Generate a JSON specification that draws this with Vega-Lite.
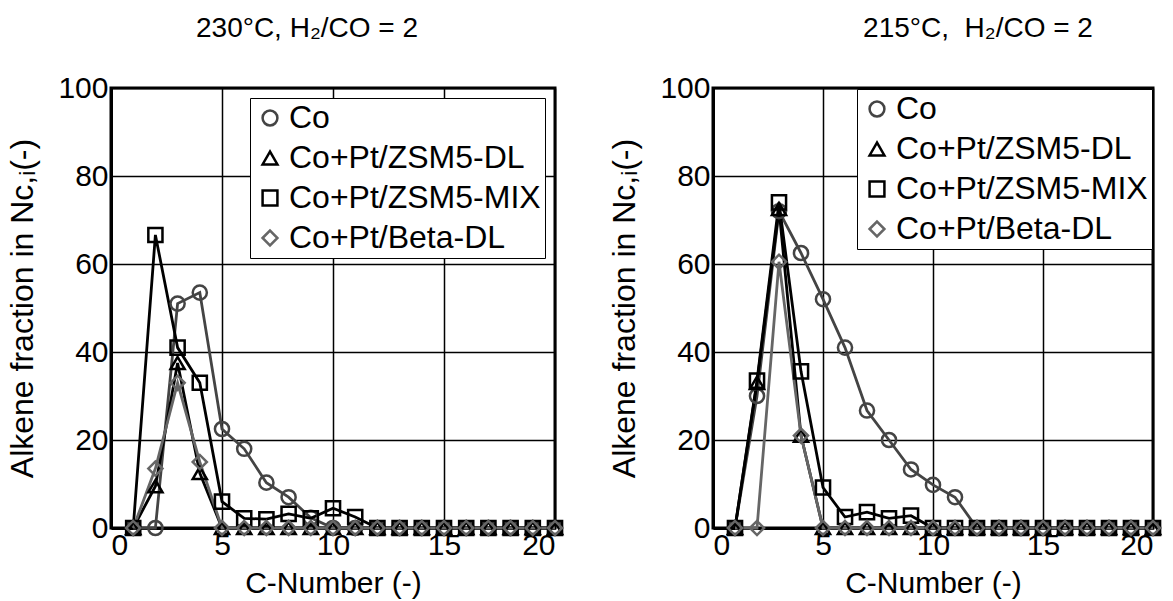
{
  "$schema": "https://vega.github.io/schema/vega-lite/v6.json",
  "padding": {"left": 5, "top": 13, "right": 5, "bottom": 0},
  "config": {
    "font": "Liberation Sans",
    "background": "white",
    "view": {"stroke": "black", "strokeWidth": 3},
    "axis": {
      "domainColor": "black", "domainWidth": 3,
      "grid": true, "gridColor": "black", "gridOpacity": 1, "gridWidth": 1.5,
      "ticks": false,
      "labelFont": "Liberation Sans", "labelFontSize": 30, "labelColor": "black",
      "titleFont": "Liberation Sans", "titleFontSize": 30, "titleColor": "black", "titleFontWeight": "normal"
    },
    "legend": {
      "labelFont": "Liberation Sans", "labelFontSize": 32, "labelColor": "black", "labelLimit": 0,
      "strokeColor": "black", "fillColor": "white", "padding": 4,
      "rowPadding": 8, "symbolStrokeWidth": 2.5, "symbolSize": 220, "labelOffset": 3,
      "orient": "top-right"
    },
    "title": {"font": "Liberation Sans", "fontSize": 28, "fontWeight": "normal", "color": "black"}
  },
  "datasets": {
    "d": [
      {"p": "A", "s": "Co", "c": 1, "v": 0}, {"p": "A", "s": "Co", "c": 2, "v": 0}, {"p": "A", "s": "Co", "c": 3, "v": 51}, {"p": "A", "s": "Co", "c": 4, "v": 53.5}, {"p": "A", "s": "Co", "c": 5, "v": 22.5}, {"p": "A", "s": "Co", "c": 6, "v": 18}, {"p": "A", "s": "Co", "c": 7, "v": 10.3}, {"p": "A", "s": "Co", "c": 8, "v": 7}, {"p": "A", "s": "Co", "c": 9, "v": 2.3}, {"p": "A", "s": "Co", "c": 10, "v": 0}, {"p": "A", "s": "Co", "c": 11, "v": 0}, {"p": "A", "s": "Co", "c": 12, "v": 0}, {"p": "A", "s": "Co", "c": 13, "v": 0}, {"p": "A", "s": "Co", "c": 14, "v": 0}, {"p": "A", "s": "Co", "c": 15, "v": 0}, {"p": "A", "s": "Co", "c": 16, "v": 0}, {"p": "A", "s": "Co", "c": 17, "v": 0}, {"p": "A", "s": "Co", "c": 18, "v": 0}, {"p": "A", "s": "Co", "c": 19, "v": 0}, {"p": "A", "s": "Co", "c": 20, "v": 0},
      {"p": "A", "s": "Co+Pt/ZSM5-DL", "c": 1, "v": 0}, {"p": "A", "s": "Co+Pt/ZSM5-DL", "c": 2, "v": 9.5}, {"p": "A", "s": "Co+Pt/ZSM5-DL", "c": 3, "v": 37.5}, {"p": "A", "s": "Co+Pt/ZSM5-DL", "c": 4, "v": 12.5}, {"p": "A", "s": "Co+Pt/ZSM5-DL", "c": 5, "v": 0}, {"p": "A", "s": "Co+Pt/ZSM5-DL", "c": 6, "v": 0}, {"p": "A", "s": "Co+Pt/ZSM5-DL", "c": 7, "v": 0}, {"p": "A", "s": "Co+Pt/ZSM5-DL", "c": 8, "v": 0}, {"p": "A", "s": "Co+Pt/ZSM5-DL", "c": 9, "v": 0}, {"p": "A", "s": "Co+Pt/ZSM5-DL", "c": 10, "v": 0}, {"p": "A", "s": "Co+Pt/ZSM5-DL", "c": 11, "v": 0}, {"p": "A", "s": "Co+Pt/ZSM5-DL", "c": 12, "v": 0}, {"p": "A", "s": "Co+Pt/ZSM5-DL", "c": 13, "v": 0}, {"p": "A", "s": "Co+Pt/ZSM5-DL", "c": 14, "v": 0}, {"p": "A", "s": "Co+Pt/ZSM5-DL", "c": 15, "v": 0}, {"p": "A", "s": "Co+Pt/ZSM5-DL", "c": 16, "v": 0}, {"p": "A", "s": "Co+Pt/ZSM5-DL", "c": 17, "v": 0}, {"p": "A", "s": "Co+Pt/ZSM5-DL", "c": 18, "v": 0}, {"p": "A", "s": "Co+Pt/ZSM5-DL", "c": 19, "v": 0}, {"p": "A", "s": "Co+Pt/ZSM5-DL", "c": 20, "v": 0},
      {"p": "A", "s": "Co+Pt/ZSM5-MIX", "c": 1, "v": 0}, {"p": "A", "s": "Co+Pt/ZSM5-MIX", "c": 2, "v": 66.6}, {"p": "A", "s": "Co+Pt/ZSM5-MIX", "c": 3, "v": 41}, {"p": "A", "s": "Co+Pt/ZSM5-MIX", "c": 4, "v": 33}, {"p": "A", "s": "Co+Pt/ZSM5-MIX", "c": 5, "v": 6}, {"p": "A", "s": "Co+Pt/ZSM5-MIX", "c": 6, "v": 2.2}, {"p": "A", "s": "Co+Pt/ZSM5-MIX", "c": 7, "v": 2}, {"p": "A", "s": "Co+Pt/ZSM5-MIX", "c": 8, "v": 3.2}, {"p": "A", "s": "Co+Pt/ZSM5-MIX", "c": 9, "v": 2.2}, {"p": "A", "s": "Co+Pt/ZSM5-MIX", "c": 10, "v": 4.5}, {"p": "A", "s": "Co+Pt/ZSM5-MIX", "c": 11, "v": 2.5}, {"p": "A", "s": "Co+Pt/ZSM5-MIX", "c": 12, "v": 0}, {"p": "A", "s": "Co+Pt/ZSM5-MIX", "c": 13, "v": 0}, {"p": "A", "s": "Co+Pt/ZSM5-MIX", "c": 14, "v": 0}, {"p": "A", "s": "Co+Pt/ZSM5-MIX", "c": 15, "v": 0}, {"p": "A", "s": "Co+Pt/ZSM5-MIX", "c": 16, "v": 0}, {"p": "A", "s": "Co+Pt/ZSM5-MIX", "c": 17, "v": 0}, {"p": "A", "s": "Co+Pt/ZSM5-MIX", "c": 18, "v": 0}, {"p": "A", "s": "Co+Pt/ZSM5-MIX", "c": 19, "v": 0}, {"p": "A", "s": "Co+Pt/ZSM5-MIX", "c": 20, "v": 0},
      {"p": "A", "s": "Co+Pt/Beta-DL", "c": 1, "v": 0}, {"p": "A", "s": "Co+Pt/Beta-DL", "c": 2, "v": 13.5}, {"p": "A", "s": "Co+Pt/Beta-DL", "c": 3, "v": 33}, {"p": "A", "s": "Co+Pt/Beta-DL", "c": 4, "v": 15}, {"p": "A", "s": "Co+Pt/Beta-DL", "c": 5, "v": 0}, {"p": "A", "s": "Co+Pt/Beta-DL", "c": 6, "v": 0}, {"p": "A", "s": "Co+Pt/Beta-DL", "c": 7, "v": 0}, {"p": "A", "s": "Co+Pt/Beta-DL", "c": 8, "v": 0}, {"p": "A", "s": "Co+Pt/Beta-DL", "c": 9, "v": 0}, {"p": "A", "s": "Co+Pt/Beta-DL", "c": 10, "v": 0}, {"p": "A", "s": "Co+Pt/Beta-DL", "c": 11, "v": 0}, {"p": "A", "s": "Co+Pt/Beta-DL", "c": 12, "v": 0}, {"p": "A", "s": "Co+Pt/Beta-DL", "c": 13, "v": 0}, {"p": "A", "s": "Co+Pt/Beta-DL", "c": 14, "v": 0}, {"p": "A", "s": "Co+Pt/Beta-DL", "c": 15, "v": 0}, {"p": "A", "s": "Co+Pt/Beta-DL", "c": 16, "v": 0}, {"p": "A", "s": "Co+Pt/Beta-DL", "c": 17, "v": 0}, {"p": "A", "s": "Co+Pt/Beta-DL", "c": 18, "v": 0}, {"p": "A", "s": "Co+Pt/Beta-DL", "c": 19, "v": 0}, {"p": "A", "s": "Co+Pt/Beta-DL", "c": 20, "v": 0},
      {"p": "B", "s": "Co", "c": 1, "v": 0}, {"p": "B", "s": "Co", "c": 2, "v": 30}, {"p": "B", "s": "Co", "c": 3, "v": 72}, {"p": "B", "s": "Co", "c": 4, "v": 62.5}, {"p": "B", "s": "Co", "c": 5, "v": 52}, {"p": "B", "s": "Co", "c": 6, "v": 41}, {"p": "B", "s": "Co", "c": 7, "v": 26.7}, {"p": "B", "s": "Co", "c": 8, "v": 20}, {"p": "B", "s": "Co", "c": 9, "v": 13.3}, {"p": "B", "s": "Co", "c": 10, "v": 9.8}, {"p": "B", "s": "Co", "c": 11, "v": 7}, {"p": "B", "s": "Co", "c": 12, "v": 0}, {"p": "B", "s": "Co", "c": 13, "v": 0}, {"p": "B", "s": "Co", "c": 14, "v": 0}, {"p": "B", "s": "Co", "c": 15, "v": 0}, {"p": "B", "s": "Co", "c": 16, "v": 0}, {"p": "B", "s": "Co", "c": 17, "v": 0}, {"p": "B", "s": "Co", "c": 18, "v": 0}, {"p": "B", "s": "Co", "c": 19, "v": 0}, {"p": "B", "s": "Co", "c": 20, "v": 0},
      {"p": "B", "s": "Co+Pt/ZSM5-DL", "c": 1, "v": 0}, {"p": "B", "s": "Co+Pt/ZSM5-DL", "c": 2, "v": 33}, {"p": "B", "s": "Co+Pt/ZSM5-DL", "c": 3, "v": 72.5}, {"p": "B", "s": "Co+Pt/ZSM5-DL", "c": 4, "v": 21}, {"p": "B", "s": "Co+Pt/ZSM5-DL", "c": 5, "v": 0}, {"p": "B", "s": "Co+Pt/ZSM5-DL", "c": 6, "v": 0}, {"p": "B", "s": "Co+Pt/ZSM5-DL", "c": 7, "v": 0}, {"p": "B", "s": "Co+Pt/ZSM5-DL", "c": 8, "v": 0}, {"p": "B", "s": "Co+Pt/ZSM5-DL", "c": 9, "v": 0}, {"p": "B", "s": "Co+Pt/ZSM5-DL", "c": 10, "v": 0}, {"p": "B", "s": "Co+Pt/ZSM5-DL", "c": 11, "v": 0}, {"p": "B", "s": "Co+Pt/ZSM5-DL", "c": 12, "v": 0}, {"p": "B", "s": "Co+Pt/ZSM5-DL", "c": 13, "v": 0}, {"p": "B", "s": "Co+Pt/ZSM5-DL", "c": 14, "v": 0}, {"p": "B", "s": "Co+Pt/ZSM5-DL", "c": 15, "v": 0}, {"p": "B", "s": "Co+Pt/ZSM5-DL", "c": 16, "v": 0}, {"p": "B", "s": "Co+Pt/ZSM5-DL", "c": 17, "v": 0}, {"p": "B", "s": "Co+Pt/ZSM5-DL", "c": 18, "v": 0}, {"p": "B", "s": "Co+Pt/ZSM5-DL", "c": 19, "v": 0}, {"p": "B", "s": "Co+Pt/ZSM5-DL", "c": 20, "v": 0},
      {"p": "B", "s": "Co+Pt/ZSM5-MIX", "c": 1, "v": 0}, {"p": "B", "s": "Co+Pt/ZSM5-MIX", "c": 2, "v": 33.5}, {"p": "B", "s": "Co+Pt/ZSM5-MIX", "c": 3, "v": 74}, {"p": "B", "s": "Co+Pt/ZSM5-MIX", "c": 4, "v": 35.6}, {"p": "B", "s": "Co+Pt/ZSM5-MIX", "c": 5, "v": 9.2}, {"p": "B", "s": "Co+Pt/ZSM5-MIX", "c": 6, "v": 2.5}, {"p": "B", "s": "Co+Pt/ZSM5-MIX", "c": 7, "v": 3.6}, {"p": "B", "s": "Co+Pt/ZSM5-MIX", "c": 8, "v": 2.2}, {"p": "B", "s": "Co+Pt/ZSM5-MIX", "c": 9, "v": 2.8}, {"p": "B", "s": "Co+Pt/ZSM5-MIX", "c": 10, "v": 0}, {"p": "B", "s": "Co+Pt/ZSM5-MIX", "c": 11, "v": 0}, {"p": "B", "s": "Co+Pt/ZSM5-MIX", "c": 12, "v": 0}, {"p": "B", "s": "Co+Pt/ZSM5-MIX", "c": 13, "v": 0}, {"p": "B", "s": "Co+Pt/ZSM5-MIX", "c": 14, "v": 0}, {"p": "B", "s": "Co+Pt/ZSM5-MIX", "c": 15, "v": 0}, {"p": "B", "s": "Co+Pt/ZSM5-MIX", "c": 16, "v": 0}, {"p": "B", "s": "Co+Pt/ZSM5-MIX", "c": 17, "v": 0}, {"p": "B", "s": "Co+Pt/ZSM5-MIX", "c": 18, "v": 0}, {"p": "B", "s": "Co+Pt/ZSM5-MIX", "c": 19, "v": 0}, {"p": "B", "s": "Co+Pt/ZSM5-MIX", "c": 20, "v": 0},
      {"p": "B", "s": "Co+Pt/Beta-DL", "c": 1, "v": 0}, {"p": "B", "s": "Co+Pt/Beta-DL", "c": 2, "v": 0}, {"p": "B", "s": "Co+Pt/Beta-DL", "c": 3, "v": 60.5}, {"p": "B", "s": "Co+Pt/Beta-DL", "c": 4, "v": 21}, {"p": "B", "s": "Co+Pt/Beta-DL", "c": 5, "v": 0}, {"p": "B", "s": "Co+Pt/Beta-DL", "c": 6, "v": 0}, {"p": "B", "s": "Co+Pt/Beta-DL", "c": 7, "v": 0}, {"p": "B", "s": "Co+Pt/Beta-DL", "c": 8, "v": 0}, {"p": "B", "s": "Co+Pt/Beta-DL", "c": 9, "v": 0}, {"p": "B", "s": "Co+Pt/Beta-DL", "c": 10, "v": 0}, {"p": "B", "s": "Co+Pt/Beta-DL", "c": 11, "v": 0}, {"p": "B", "s": "Co+Pt/Beta-DL", "c": 12, "v": 0}, {"p": "B", "s": "Co+Pt/Beta-DL", "c": 13, "v": 0}, {"p": "B", "s": "Co+Pt/Beta-DL", "c": 14, "v": 0}, {"p": "B", "s": "Co+Pt/Beta-DL", "c": 15, "v": 0}, {"p": "B", "s": "Co+Pt/Beta-DL", "c": 16, "v": 0}, {"p": "B", "s": "Co+Pt/Beta-DL", "c": 17, "v": 0}, {"p": "B", "s": "Co+Pt/Beta-DL", "c": 18, "v": 0}, {"p": "B", "s": "Co+Pt/Beta-DL", "c": 19, "v": 0}, {"p": "B", "s": "Co+Pt/Beta-DL", "c": 20, "v": 0}
    ]
  },
  "spacing": 38,
  "resolve": {"legend": {"color": "independent", "shape": "independent"}, "scale": {"color": "independent", "shape": "independent"}},
  "hconcat": [
    {
      "title": {"text": "230°C, H₂/CO = 2", "offset": 30, "dx": -26},
      "width": 444, "height": 440,
      "data": {"name": "d"},
      "transform": [{"filter": "datum.p == 'A'"}],
      "encoding": {
        "x": {"field": "c", "type": "quantitative", "scale": {"domain": [0, 20]}, "axis": {"values": [0, 5, 10, 15, 20], "title": "C-Number (-)", "labelPadding": 2, "titlePadding": 8}},
        "y": {"field": "v", "type": "quantitative", "scale": {"domain": [0, 100]}, "axis": {"values": [0, 20, 40, 60, 80, 100], "title": "Alkene fraction in Nᴄ,ᵢ(-)", "titleFontSize": 32, "labelPadding": 3, "titlePadding": 18}},
        "color": {"field": "s", "type": "nominal", "title": null, "scale": {"domain": ["Co", "Co+Pt/ZSM5-DL", "Co+Pt/ZSM5-MIX", "Co+Pt/Beta-DL"], "range": ["#444444", "#000000", "#000000", "#666666"]}, "legend": {"offset": 10}}
      },
      "layer": [
        {"mark": {"type": "line", "strokeWidth": 2.8}},
        {"mark": {"type": "point", "filled": false, "strokeWidth": 2.5, "size": 200, "opacity": 1},
         "encoding": {"shape": {"field": "s", "type": "nominal", "title": null, "scale": {"domain": ["Co", "Co+Pt/ZSM5-DL", "Co+Pt/ZSM5-MIX", "Co+Pt/Beta-DL"], "range": ["circle", "triangle-up", "square", "diamond"]}, "legend": {"offset": 10}}}}
      ]
    },
    {
      "title": {"text": "215°C,\u00a0 H₂/CO = 2", "offset": 30, "dx": 45},
      "width": 440, "height": 440,
      "data": {"name": "d"},
      "transform": [{"filter": "datum.p == 'B'"}],
      "encoding": {
        "x": {"field": "c", "type": "quantitative", "scale": {"domain": [0, 20]}, "axis": {"values": [0, 5, 10, 15, 20], "title": "C-Number (-)", "labelPadding": 2, "titlePadding": 8}},
        "y": {"field": "v", "type": "quantitative", "scale": {"domain": [0, 100]}, "axis": {"values": [0, 20, 40, 60, 80, 100], "title": "Alkene fraction in Nᴄ,ᵢ(-)", "titleFontSize": 32, "labelPadding": 3, "titlePadding": 18}},
        "color": {"field": "s", "type": "nominal", "title": null, "scale": {"domain": ["Co", "Co+Pt/ZSM5-DL", "Co+Pt/ZSM5-MIX", "Co+Pt/Beta-DL"], "range": ["#444444", "#000000", "#000000", "#666666"]}, "legend": {"offset": 1}}
      },
      "layer": [
        {"mark": {"type": "line", "strokeWidth": 2.8}},
        {"mark": {"type": "point", "filled": false, "strokeWidth": 2.5, "size": 200, "opacity": 1},
         "encoding": {"shape": {"field": "s", "type": "nominal", "title": null, "scale": {"domain": ["Co", "Co+Pt/ZSM5-DL", "Co+Pt/ZSM5-MIX", "Co+Pt/Beta-DL"], "range": ["circle", "triangle-up", "square", "diamond"]}, "legend": {"offset": 1}}}}
      ]
    }
  ]
}
